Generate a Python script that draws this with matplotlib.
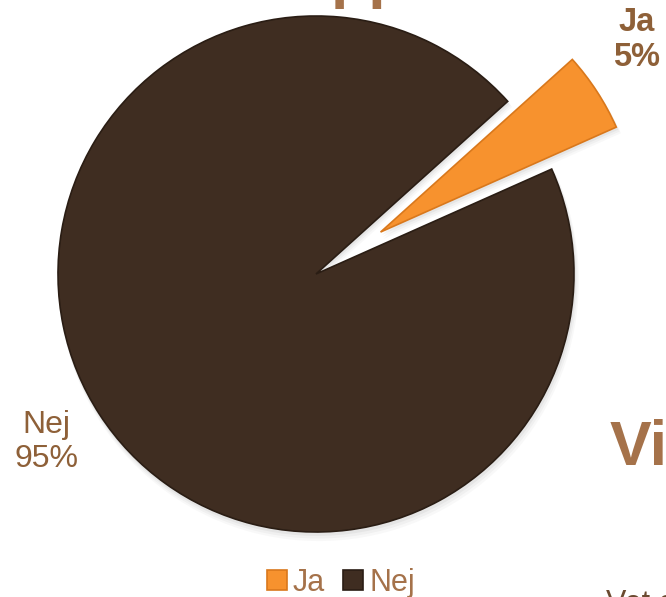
import matplotlib.pyplot as plt

plt.rcParams['font.family'] = ['Liberation Sans', 'DejaVu Sans']

labels = ["Ja", "Nej"]
shares = [5, 95]
colors = ["#F7922E", "#3F2D21"]
label_color = "#8E6038"
text_color = "#A5724A"

W, H = 666, 597
fig = plt.figure(figsize=(W / 100, H / 100), dpi=100)
ax = fig.add_axes([0, 0, 1, 1])

cx, cy, r = 316, H - 274, 258
# explode is in data units here (pixels)
explode = [77, 0]

# soft shadow behind the pie
for k, a in [(7, 0.05), (5, 0.07), (3, 0.10)]:
    ax.pie(shares, colors=["#888888"] * 2, explode=explode, startangle=24,
           center=(cx + k * 0.4, cy - k), radius=r + k * 0.3,
           wedgeprops=dict(alpha=a, linewidth=0), frame=True)

wedges, _ = ax.pie(shares, colors=colors, explode=explode, startangle=24,
                   center=(cx, cy), radius=r, frame=True,
                   wedgeprops=dict(linewidth=1.2, edgecolor="#2A1D14"))
wedges[0].set_edgecolor("#D9781C")
ax.set_xlim(0, W)
ax.set_ylim(0, H)
ax.set_aspect("equal")
ax.axis("off")

# data labels
ax.text(637, H - 40, f"{labels[0]}\n{shares[0]}%", ha="center", va="center",
        fontsize=23.5, fontweight="bold", color=label_color, linespacing=1.15)
ax.text(46, H - 442, f"{labels[1]}\n{shares[1]}%", ha="center", va="center",
        fontsize=23, color=label_color, linespacing=1.15)

# slide text behind the chart (cut off by the frame)
ax.text(610, H - 465, "Vi", ha="left", va="baseline", fontsize=45,
        fontweight="bold", color=text_color, clip_on=False)
ax.text(606, H - 612, "Vet o", ha="left", va="baseline", fontsize=22,
        color="#6B4A30", clip_on=False)
ax.text(331, H + 4, "pp", ha="left", va="baseline", fontsize=45,
        fontweight="bold", color=text_color, clip_on=False)

fig.legend(wedges, labels, loc="center", bbox_to_anchor=(341 / W, 1 - 583 / H),
           ncol=2, frameon=False, fontsize=22, labelcolor=text_color,
           handlelength=0.65, handleheight=0.65, handletextpad=0.2,
           columnspacing=0.6, borderpad=0)

fig.savefig("out.png", dpi=100)
